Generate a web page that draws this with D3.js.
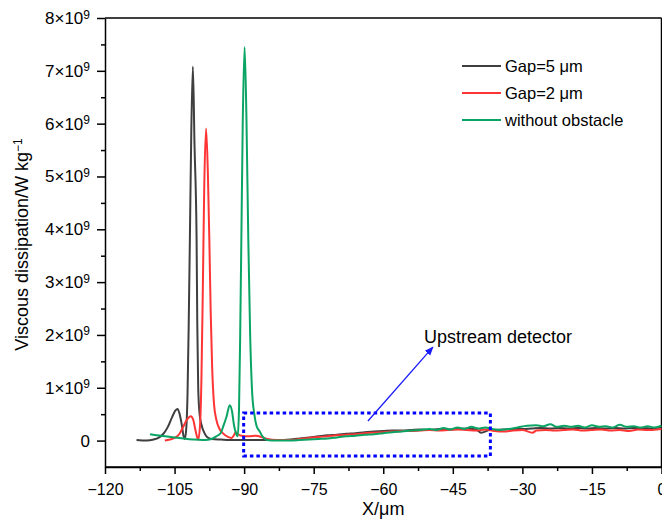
<!DOCTYPE html>
<html>
<head>
<meta charset="utf-8">
<script src="https://cdn.jsdelivr.net/npm/d3@7"></script>
<style>
  html, body { margin: 0; padding: 0; background: #ffffff; }
  svg { display: block; font-family: "Liberation Sans", Arial, sans-serif; }
  .axis path, .axis line { stroke: #000000; stroke-width: 1.5; }
  .axis text { font-size: 16px; fill: #000000; font-family: "Liberation Sans", Arial, sans-serif; }
  .y-major text { font-size: 17px; }
</style>
</head>
<body>
<svg id="chart"></svg>
<script>
/* ---------------------------------------------------------
   Data (X in µm, dissipation in units of 1e9 W/kg)
   --------------------------------------------------------- */

const SERIES_NAMES  = ["Gap=5 μm", "Gap=2 μm", "without obstacle"];
const SERIES_COLORS = ["#3f3f3f", "#ff3535", "#0aa564"];

const gap5 = [
  [-113.2, 0.01], [-111, 0.0], [-109.5, 0.02], [-108.5, 0.05], [-107.5, 0.12],
  [-106.5, 0.25], [-105.5, 0.45], [-104.8, 0.57], [-104.35, 0.6], [-103.9, 0.5],
  [-103.4, 0.28], [-103.1, 0.1], [-102.8, 0.03], [-102.5, 0.2], [-102.2, 0.9],
  [-101.95, 2.2], [-101.7, 3.8], [-101.4, 5.8], [-101.05, 7.08], [-100.7, 5.6],
  [-100.25, 3.8], [-100.1, 2.2], [-99.9, 1.0], [-99.6, 0.5], [-99.2, 0.3],
  [-98.6, 0.15], [-98, 0.07], [-97, 0.03], [-95, 0.02], [-92, 0.01],
  [-89, 0.01], [-86, 0.01], [-83, 0.01], [-80, 0.02], [-78, 0.04],
  [-76, 0.06], [-74, 0.08], [-72, 0.1], [-70, 0.11], [-68, 0.13],
  [-66, 0.14], [-64, 0.16], [-62, 0.17], [-60, 0.18], [-58, 0.19],
  [-56, 0.19], [-54, 0.2], [-52, 0.21], [-50, 0.2], [-48, 0.22],
  [-46, 0.21], [-44, 0.22], [-42, 0.23], [-40, 0.21], [-38.9, 0.15],
  [-37, 0.2], [-34, 0.21], [-32, 0.22], [-30, 0.22], [-28, 0.23],
  [-26, 0.24], [-24, 0.23], [-22, 0.24], [-20, 0.23], [-18, 0.24],
  [-16, 0.23], [-14, 0.24], [-12, 0.23], [-10, 0.24], [-8, 0.23],
  [-6, 0.24], [-4, 0.24], [-2, 0.23], [0, 0.25]
];

const gap2 = [
  [-107.1, 0.0], [-106, 0.02], [-105, 0.05], [-104, 0.12], [-103.2, 0.25],
  [-102.3, 0.4], [-101.5, 0.46], [-101, 0.4], [-100.5, 0.2], [-99.9, 0.02],
  [-99.5, 0.3], [-99.2, 1.2], [-98.9, 2.9], [-98.6, 4.8], [-98.2, 5.91],
  [-97.8, 5.0], [-97.5, 3.8], [-97.2, 2.4], [-96.9, 1.4], [-96.5, 0.7],
  [-96, 0.4], [-95.3, 0.22], [-94.6, 0.14], [-93.5, 0.07], [-92.7, 0.05],
  [-92.2, 0.1], [-91.8, 0.16], [-91.3, 0.12], [-90.5, 0.09], [-89, 0.08],
  [-87.5, 0.09], [-86, 0.06], [-85, 0.03], [-83, 0.01], [-80, 0.01],
  [-78, 0.03], [-76, 0.05], [-74, 0.07], [-72, 0.08], [-70, 0.1],
  [-68, 0.11], [-66, 0.12], [-64, 0.14], [-62, 0.15], [-60, 0.16],
  [-58, 0.17], [-56, 0.18], [-54, 0.18], [-52, 0.19], [-50, 0.2],
  [-48, 0.19], [-46, 0.2], [-44, 0.21], [-42, 0.2], [-40, 0.19],
  [-38, 0.21], [-36, 0.18], [-34, 0.17], [-32, 0.19], [-30, 0.2],
  [-27.8, 0.15], [-27, 0.19], [-25, 0.2], [-23, 0.19], [-21, 0.2],
  [-19, 0.21], [-17, 0.19], [-15, 0.2], [-13, 0.21], [-11, 0.19],
  [-9, 0.2], [-7, 0.18], [-5, 0.21], [-3, 0.2], [-1, 0.21], [0, 0.22]
];

const noObstacle = [
  [-110.3, 0.12], [-107, 0.08], [-104, 0.05], [-101, 0.02], [-99, 0.01],
  [-97.5, 0.02], [-96, 0.08], [-95, 0.15], [-94.5, 0.27], [-93.8, 0.45],
  [-93.1, 0.67], [-92.6, 0.55], [-92.2, 0.3], [-91.8, 0.15], [-91.4, 0.08],
  [-91.1, 0.6], [-90.85, 2.0], [-90.6, 3.8], [-90.3, 6.0], [-89.9, 7.45],
  [-89.5, 6.1], [-89.1, 3.8], [-88.7, 2.0], [-88.3, 0.96], [-87.8, 0.5],
  [-87.3, 0.27], [-86.6, 0.17], [-86.2, 0.1], [-85.6, 0.04], [-85.1, 0.01],
  [-83, 0.0], [-80, 0.0], [-78, 0.01], [-76, 0.02], [-74, 0.03],
  [-72, 0.04], [-70, 0.06], [-68, 0.08], [-66, 0.09], [-64, 0.11],
  [-62, 0.12], [-60, 0.14], [-58, 0.16], [-56, 0.17], [-54, 0.19],
  [-52, 0.2], [-50, 0.22], [-48.5, 0.2], [-47, 0.24], [-45.5, 0.21],
  [-44, 0.25], [-42.5, 0.22], [-41, 0.26], [-39.5, 0.23], [-38, 0.25],
  [-36.5, 0.22], [-35, 0.2], [-33, 0.22], [-31, 0.25], [-29, 0.28],
  [-27, 0.29], [-25.5, 0.27], [-24, 0.31], [-22.5, 0.26], [-21, 0.28],
  [-19.5, 0.26], [-18, 0.28], [-16.5, 0.25], [-15, 0.29], [-13.5, 0.26],
  [-12, 0.27], [-10.5, 0.25], [-9, 0.3], [-7.5, 0.26], [-6, 0.27],
  [-4.5, 0.25], [-3, 0.27], [-1.5, 0.25], [0, 0.28]
];

const X_TICKS = [-120, -105, -90, -75, -60, -45, -30, -15, 0];
const Y_TICKS = [0, 1, 2, 3, 4, 5, 6, 7, 8];

// annotation: dotted box + arrow, in data units
const DETECTOR_BOX = { x0: -90.1, x1: -36.9, y0: -0.29, y1: 0.52 };
const ARROW = { from: [-63.3, 0.37], to: [-49.3, 1.77] };
const ANNOT_LABEL = { x: -51.2, y: 1.85, text: "Upstream detector" };

/* ---------------------------------------------------------
   Layout
   --------------------------------------------------------- */

const W = 662, H = 522;
const PLOT = { left: 105, right: 661.5, top: 18, bottom: 467 };

const svg = d3.select("#chart").attr("width", W).attr("height", H);

const x = d3.scaleLinear().domain([-120, 0]).range([PLOT.left, PLOT.right]);
const y = d3.scaleLinear().domain([-0.5, 8]).range([PLOT.bottom, PLOT.top]);

/* ---------------------------------------------------------
   Axes
   --------------------------------------------------------- */

// minor ticks
svg.append("g")
  .attr("class", "axis")
  .attr("transform", `translate(0,${PLOT.bottom})`)
  .call(d3.axisBottom(x).tickValues(d3.range(-112.5, 0, 15)).tickSize(4).tickFormat(""))
  .call(g => g.select(".domain").remove());

svg.append("g")
  .attr("class", "axis")
  .attr("transform", `translate(${PLOT.left},0)`)
  .call(d3.axisLeft(y).tickValues(d3.range(0.5, 8, 1)).tickSize(4).tickFormat(""))
  .call(g => g.select(".domain").remove());

// major ticks
svg.append("g")
  .attr("class", "axis")
  .attr("transform", `translate(0,${PLOT.bottom})`)
  .call(d3.axisBottom(x).tickValues(X_TICKS).tickSize(7).tickSizeOuter(0)
    .tickPadding(10).tickFormat(d3.format("d")));

const yAxis = svg.append("g")
  .attr("class", "axis y-major")
  .attr("transform", `translate(${PLOT.left},0)`)
  .call(d3.axisLeft(y).tickValues(Y_TICKS).tickSize(8).tickSizeOuter(0).tickPadding(7));

yAxis.selectAll(".tick text").each(function(d) {
  const t = d3.select(this).text("");
  if (d === 0) { t.text("0"); return; }
  t.append("tspan").text(d + "×10");
  t.append("tspan").attr("dy", "-0.45em").attr("font-size", "12px").text("9");
});

// frame: top, right and bottom lines
svg.append("line")
  .attr("x1", PLOT.left).attr("x2", PLOT.right)
  .attr("y1", PLOT.top).attr("y2", PLOT.top)
  .attr("stroke", "#000").attr("stroke-width", 1.5);
svg.append("line")
  .attr("x1", PLOT.right).attr("x2", PLOT.right)
  .attr("y1", PLOT.top).attr("y2", PLOT.bottom)
  .attr("stroke", "#000").attr("stroke-width", 1.5);
svg.append("line")
  .attr("x1", PLOT.left).attr("x2", PLOT.right)
  .attr("y1", PLOT.bottom).attr("y2", PLOT.bottom)
  .attr("stroke", "#000").attr("stroke-width", 1.5);

/* ---------------------------------------------------------
   Axis titles
   --------------------------------------------------------- */

svg.append("text")
  .attr("x", (PLOT.left + PLOT.right) / 2)
  .attr("y", 515)
  .attr("text-anchor", "middle")
  .attr("font-size", 18)
  .text("X/μm");

const yTitle = svg.append("text")
  .attr("transform", `translate(28,${(PLOT.top + PLOT.bottom) / 2 + 2}) rotate(-90)`)
  .attr("text-anchor", "middle")
  .attr("font-size", 18);
yTitle.append("tspan").text("Viscous dissipation/W kg");
yTitle.append("tspan").attr("dy", "-0.5em").attr("font-size", 12).text("−1");

/* ---------------------------------------------------------
   Series
   --------------------------------------------------------- */

const line = d3.line()
  .x(d => x(d[0]))
  .y(d => y(d[1]))
  .curve(d3.curveMonotoneX);

const allSeries = [gap5, gap2, noObstacle];

svg.append("g")
  .selectAll("path")
  .data(allSeries)
  .join("path")
  .attr("fill", "none")
  .attr("stroke", (_, i) => SERIES_COLORS[i])
  .attr("stroke-width", 2)
  .attr("stroke-linejoin", "round")
  .attr("d", line);

/* ---------------------------------------------------------
   Annotation
   --------------------------------------------------------- */

svg.append("rect")
  .attr("x", x(DETECTOR_BOX.x0))
  .attr("y", y(DETECTOR_BOX.y1))
  .attr("width", x(DETECTOR_BOX.x1) - x(DETECTOR_BOX.x0))
  .attr("height", y(DETECTOR_BOX.y0) - y(DETECTOR_BOX.y1))
  .attr("fill", "none")
  .attr("stroke", "#0000ff")
  .attr("stroke-width", 3)
  .attr("stroke-dasharray", "3.5,3");

svg.append("defs").append("marker")
  .attr("id", "arrowhead")
  .attr("viewBox", "0 0 10 10")
  .attr("refX", 9).attr("refY", 5)
  .attr("markerWidth", 9).attr("markerHeight", 9)
  .attr("markerUnits", "userSpaceOnUse")
  .attr("orient", "auto")
  .append("path")
  .attr("d", "M0,1 L10,5 L0,9 Z")
  .attr("fill", "#1a1aff");

svg.append("line")
  .attr("x1", x(ARROW.from[0])).attr("y1", y(ARROW.from[1]))
  .attr("x2", x(ARROW.to[0])).attr("y2", y(ARROW.to[1]))
  .attr("stroke", "#1a1aff")
  .attr("stroke-width", 1.3)
  .attr("marker-end", "url(#arrowhead)");

svg.append("text")
  .attr("x", x(ANNOT_LABEL.x))
  .attr("y", y(ANNOT_LABEL.y))
  .attr("font-size", 18)
  .text(ANNOT_LABEL.text);

/* ---------------------------------------------------------
   Legend
   --------------------------------------------------------- */

const legend = svg.append("g").attr("transform", "translate(462,66)");
SERIES_NAMES.forEach((name, i) => {
  const row = legend.append("g").attr("transform", `translate(0,${i * 27})`);
  row.append("line")
    .attr("x1", 0).attr("x2", 39)
    .attr("stroke", SERIES_COLORS[i])
    .attr("stroke-width", 2);
  row.append("text")
    .attr("x", 43).attr("y", 5.5)
    .attr("font-size", 16.5)
    .text(name);
});
</script>
</body>
</html>
